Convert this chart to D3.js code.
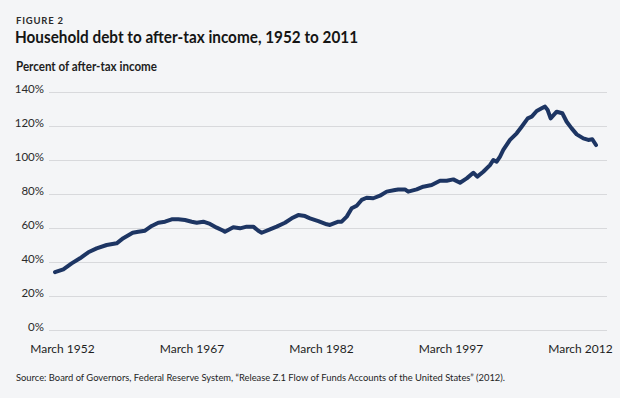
<!DOCTYPE html>
<html>
<head>
<meta charset="utf-8">
<script src="https://cdn.jsdelivr.net/npm/d3@7"></script>
<style>
  html, body { margin: 0; padding: 0; background: #f4f5f7; }
  svg { display: block; }
  text { font-family: Lato, "Open Sans", sans-serif; fill: #1e1e1e; }
</style>
</head>
<body>
<svg id="chart" width="620" height="398"></svg>
<script>
// ---- data ----
const figureLabel = "FIGURE 2";
const title = "Household debt to after-tax income, 1952 to 2011";
const subtitle = "Percent of after-tax income";
const source = "Source: Board of Governors, Federal Reserve System, \u201cRelease Z.1 Flow of Funds Accounts of the United States\u201d (2012).";

const xTickLabels = ["March 1952", "March 1967", "March 1982", "March 1997", "March 2012"];
const yTickValues = [0, 20, 40, 60, 80, 100, 120, 140];

const years = [
  1952.0, 1952.92, 1953.84, 1954.76, 1955.68, 1956.6, 1957.71, 1958.81, 1959.54, 1960.58,
  1961.2, 1961.94, 1962.68, 1963.41, 1964.15, 1964.89, 1965.62, 1966.36, 1967.1, 1967.65,
  1968.38, 1969.12, 1969.86, 1970.59, 1970.77, 1971.69, 1972.43, 1973.17, 1973.9, 1974.45,
  1974.83, 1975.74, 1976.48, 1977.4, 1978.14, 1978.87, 1979.61, 1980.16, 1981.08, 1982.01,
  1982.37, 1983.29, 1983.66, 1984.22, 1984.77, 1985.32, 1985.87, 1986.42, 1987.15, 1987.89,
  1988.63, 1989.55, 1989.91, 1990.65, 1991.01, 1991.95, 1992.67, 1993.6, 1994.52, 1995.26,
  1995.99, 1996.73, 1997.47, 1998.2, 1998.64, 1999.3, 2000.04, 2000.41, 2000.78, 2001.15,
  2001.51, 2002.25, 2002.99, 2003.54, 2004.21, 2004.65, 2005.2, 2005.75, 2006.12, 2006.41,
  2006.74, 2007.41, 2008.03, 2008.51, 2009.06, 2009.62, 2010.35, 2010.9, 2011.34, 2011.75
];
const debtToIncome = [
  34.0, 35.7, 39.2, 42.2, 45.7, 48.0, 50.0, 51.0, 54.0, 57.2,
  57.8, 58.4, 61.2, 63.1, 63.7, 65.1, 65.1, 64.7, 63.7, 63.1,
  63.7, 62.4, 60.2, 58.4, 57.8, 60.4, 59.8, 60.8, 60.8, 58.4,
  57.2, 59.2, 60.8, 63.1, 65.7, 67.6, 67.0, 65.7, 64.1, 62.2,
  61.8, 63.7, 63.7, 66.7, 71.6, 73.1, 76.5, 77.8, 77.5, 79.0,
  81.4, 82.4, 82.7, 82.7, 81.4, 82.7, 84.3, 85.3, 87.8, 87.8,
  88.6, 86.6, 89.2, 92.5, 90.2, 93.1, 97.0, 100.0, 99.0, 102.0,
  105.9, 111.8, 115.7, 119.6, 124.5, 125.5, 128.8, 130.4, 131.4, 129.4,
  124.5, 128.4, 127.5, 122.5, 118.6, 115.1, 112.7, 111.8, 112.2, 108.8
];

// ---- drawing ----
const svg = d3.select("#chart");
const W = 620, H = 398;

svg.append("rect").attr("width", W).attr("height", H).attr("fill", "#f4f5f7");

const plot = { left: 49, right: 607, top: 92, bottom: 330 };

const x = d3.scaleLinear()
  .domain([d3.min(years), d3.max(years)])
  .range([55, 596]);
const y = d3.scaleLinear()
  .domain([0, 140])
  .range([plot.bottom, plot.top]);
const xLabels = d3.scalePoint()
  .domain(xTickLabels)
  .range([62, 580]);

function fitText(sel, target) {
  const n = sel.node();
  const w = n.getComputedTextLength();
  if (w > target) sel.attr("textLength", target).attr("lengthAdjust", "spacingAndGlyphs");
}

// headings
svg.append("text").attr("x", 16).attr("y", 24)
  .attr("font-size", 9.5).attr("font-weight", 700).attr("letter-spacing", 0.8)
  .style("fill", "#2b2b2b").text(figureLabel);
const t = svg.append("text").attr("x", 15).attr("y", 43)
  .attr("font-size", 17).attr("font-weight", 700).style("fill", "#151515").text(title);
fitText(t, 343);
const st = svg.append("text").attr("x", 16).attr("y", 71)
  .attr("font-size", 12.5).attr("font-weight", 700).style("fill", "#1e1e1e").text(subtitle);
fitText(st, 141);

// y axis + gridlines
const yAxis = svg.append("g")
  .attr("transform", `translate(${plot.left},0)`)
  .call(d3.axisLeft(y).tickValues(yTickValues)
    .tickSize(-(plot.right - plot.left))
    .tickPadding(5)
    .tickFormat(d => d + "%"));
yAxis.select(".domain").remove();
yAxis.selectAll(".tick line").attr("stroke", "#d8d9dc").attr("stroke-width", 1);
yAxis.selectAll(".tick text")
  .attr("font-family", "Lato, sans-serif").attr("font-size", 11.5)
  .attr("dy", "0.05em").style("fill", "#2a2a2a");

// x axis labels
const xAxis = svg.append("g")
  .attr("transform", `translate(0,${plot.bottom})`)
  .call(d3.axisBottom(xLabels).tickSize(0).tickPadding(14));
xAxis.select(".domain").remove();
xAxis.selectAll(".tick text")
  .attr("font-family", "Lato, sans-serif").attr("font-size", 12)
  .style("fill", "#1e1e1e");

// line
const data = years.map((yr, i) => ({ t: yr, v: debtToIncome[i] }));
svg.append("path")
  .datum(data)
  .attr("fill", "none")
  .attr("stroke", "#1d3563")
  .attr("stroke-width", 4)
  .attr("stroke-linejoin", "round")
  .attr("stroke-linecap", "round")
  .attr("d", d3.line().x(d => x(d.t)).y(d => y(d.v)));

// source
const src = svg.append("text").attr("x", 16).attr("y", 381)
  .attr("font-size", 10).style("fill", "#1e1e1e").text(source);
fitText(src, 489);
</script>
</body>
</html>
